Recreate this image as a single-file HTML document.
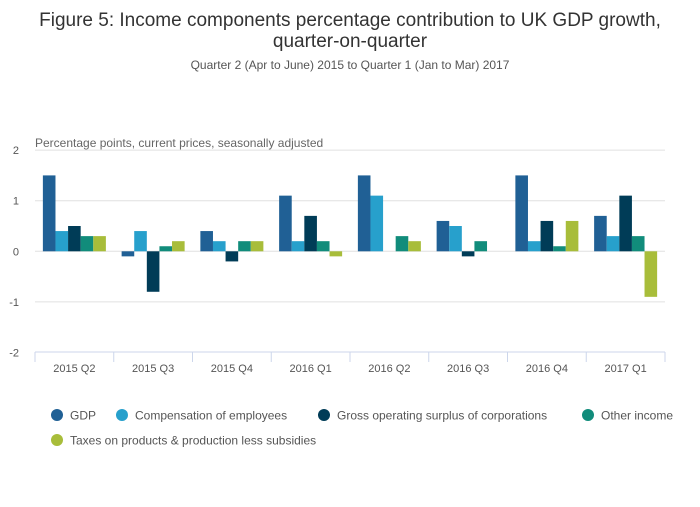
<!DOCTYPE html>
<html><head><meta charset="utf-8"><style>
body{margin:0;background:#fff;font-family:"Liberation Sans",sans-serif;}
svg text{font-family:"Liberation Sans",sans-serif;}
</style></head><body>
<svg width="700" height="502">
<text x="350" y="26" text-anchor="middle" font-size="19" fill="#333">Figure 5: Income components percentage contribution to UK GDP growth,</text>
<text x="350" y="47" text-anchor="middle" font-size="19" fill="#333">quarter-on-quarter</text>
<text x="350" y="69" text-anchor="middle" font-size="12" fill="#555">Quarter 2 (Apr to June) 2015 to Quarter 1 (Jan to Mar) 2017</text>
<text x="35" y="147" font-size="12" fill="#666">Percentage points, current prices, seasonally adjusted</text>
<g id="grid"></g><g id="bars"></g><g id="xaxis"></g><g id="legend"></g>
</svg>
<script>
const categories=["2015 Q2","2015 Q3","2015 Q4","2016 Q1","2016 Q2","2016 Q3","2016 Q4","2017 Q1"];
const seriesNames=["GDP","Compensation of employees","Gross operating surplus of corporations","Other income","Taxes on products & production less subsidies"];
const gdp=[1.5,-0.1,0.4,1.1,1.5,0.6,1.5,0.7];
const comp=[0.4,0.4,0.2,0.2,1.1,0.5,0.2,0.3];
const gos=[0.5,-0.8,-0.2,0.7,0,-0.1,0.6,1.1];
const other=[0.3,0.1,0.2,0.2,0.3,0.2,0.1,0.3];
const taxes=[0.3,0.2,0.2,-0.1,0.2,0,0.6,-0.9];
const yTicks=[2,1,0,-1,-2];
const colors=["#206095","#27a0cc","#003c57","#118c7b","#a8bd3a"];
const series=[gdp,comp,gos,other,taxes];
const NS="http://www.w3.org/2000/svg";
const x0=35,x1=665,bw=(x1-x0)/categories.length;
const y=v=>251.3-v*50.6;
function mk(t,a,p){const e=document.createElementNS(NS,t);for(const k in a)e.setAttribute(k,a[k]);p.appendChild(e);return e;}
const grid=document.getElementById('grid');
yTicks.forEach(t=>{
 if(t!==-2){const l=mk('line',{x1:x0,x2:x1,y1:y(t),y2:y(t),stroke:'#e0e0e0','stroke-width':1},grid);
 
 }
 const tx=mk('text',{x:19,y:y(t)+4,'text-anchor':'end','font-size':11,fill:'#555'},grid);tx.textContent=t;
 
 
});
const bars=document.getElementById('bars');
const bW=12.6,pad=(bw-5*bW)/2;
categories.forEach((c,i)=>{
 series.forEach((s,j)=>{
  const v=s[i];if(v===0)return;
  const r=mk('rect',{x:x0+i*bw+pad+j*bW,y:Math.min(y(v),y(0)),width:bW,height:Math.abs(y(v)-y(0)),fill:colors[j]},bars);
  
  
 });
});
const xa=document.getElementById('xaxis');
const ax=mk('line',{x1:x0,x2:x1,y1:352,y2:352,stroke:'#ccd6eb'},xa);


for(let i=0;i<=categories.length;i++){mk('line',{x1:x0+i*bw,x2:x0+i*bw,y1:352,y2:362,stroke:'#ccd6eb'},xa);}
categories.forEach((c,i)=>{const t=mk('text',{x:x0+i*bw+bw/2,y:372,'text-anchor':'middle','font-size':11,fill:'#555'},xa);t.textContent=c;
 
 });
const lg=document.getElementById('legend');
const lpos=[[57,415],[122,415],[324,415],[588,415],[57,440]];
seriesNames.forEach((n,j)=>{
 const g=mk('g',{},lg);
 
 
 mk('circle',{cx:lpos[j][0],cy:lpos[j][1],r:6,fill:colors[j]},g);
 const t=mk('text',{x:lpos[j][0]+13,y:lpos[j][1]+4.5,'font-size':12,fill:'#555'},g);t.textContent=n;
});
</script>
</body></html>
